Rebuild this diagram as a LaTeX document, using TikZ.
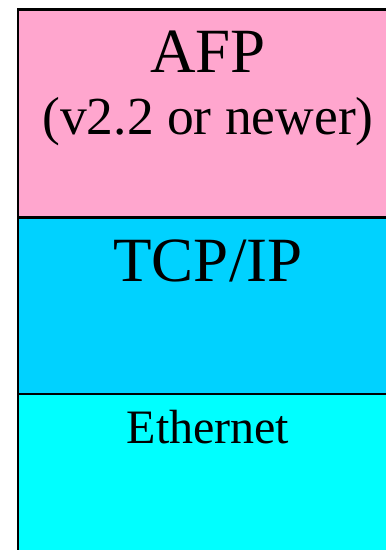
\documentclass[tikz,border=0pt]{standalone}
\usepackage{fontspec}
\setmainfont{Liberation Serif}
\definecolor{afppink}{RGB}{255,166,206}
\definecolor{tcpcyan}{RGB}{0,210,255}
\definecolor{ethaqua}{RGB}{0,255,255}
\begin{document}
\begin{tikzpicture}[x=1pt,y=1pt,
  layer/.style={draw=black,line width=2.5pt,anchor=north west,inner sep=0pt,minimum width=400pt},
  lbl/.style={anchor=base,inner sep=0pt,text=black}]
\useasboundingbox (0,0) rectangle (386,550);
\fill[white] (0,0) rectangle (386,550);
\node[layer,fill=ethaqua,minimum height=180pt] (eth) at (16.5,157) {};
\node[layer,fill=tcpcyan,minimum height=176.5pt] (tcp) at (16.5,333.5) {};
\node[layer,fill=afppink,minimum height=208pt] (afp) at (16.5,541.5) {};
\node[lbl,font=\fontsize{63}{63}\selectfont] (afpt) at (208,477) {AFP};
\node[lbl,font=\fontsize{53.5}{53.5}\selectfont] (afpv) at (208,415) {(v2.2 or newer)};
\node[lbl,font=\fontsize{63}{63}\selectfont] (tcpt) at (208,268) {TCP/IP};
\node[lbl,font=\fontsize{48}{48}\selectfont] (etht) at (208,106) {Ethernet};
\end{tikzpicture}
\end{document}
